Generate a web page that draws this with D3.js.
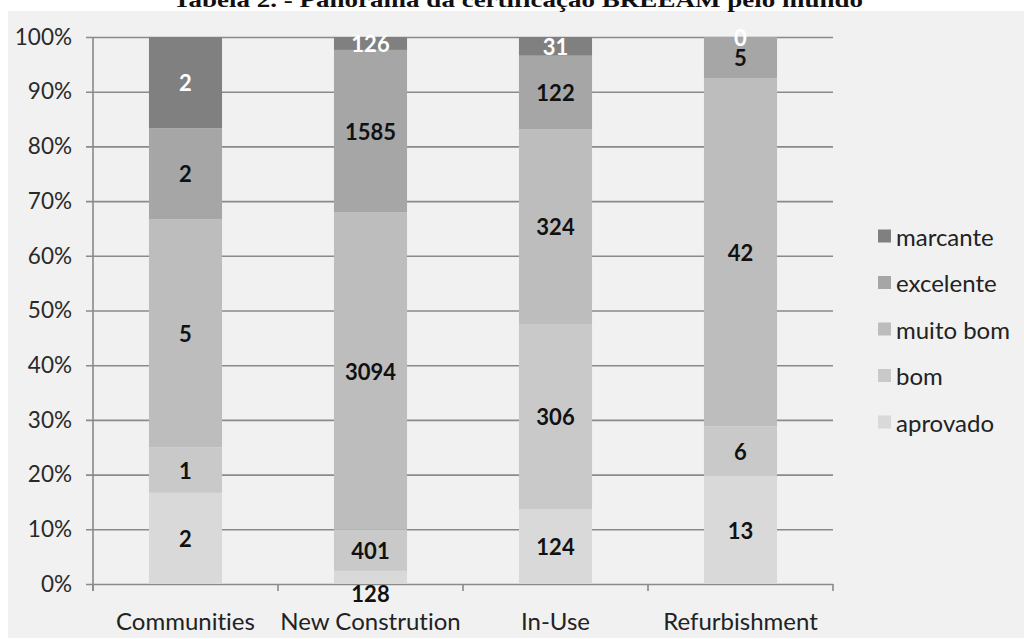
<!DOCTYPE html>
<html>
<head>
<meta charset="utf-8">
<script src="https://cdn.jsdelivr.net/npm/d3@7"></script>
<style>
  html, body { margin: 0; padding: 0; background: #ffffff; }
  svg { display: block; }
  text { font-variant-ligatures: none; font-feature-settings: "liga" 0, "clig" 0; }
</style>
</head>
<body>
<svg id="chart" width="1024" height="639"></svg>
<script>
// Certification counts per BREEAM scheme, by rating
const categories = ["Communities", "New Constrution", "In-Use", "Refurbishment"];
const seriesNames = ["aprovado", "bom", "muito bom", "excelente", "marcante"];
const aprovado  = [2, 128, 124, 13];
const bom       = [1, 401, 306, 6];
const muitoBom  = [5, 3094, 324, 42];
const excelente = [2, 1585, 122, 5];
const marcante  = [2, 126, 31, 0];
const yTickValues = [0, 0.1, 0.2, 0.3, 0.4, 0.5, 0.6, 0.7, 0.8, 0.9, 1];
const titleText = "Tabela 2. - Panorama da certificação BREEAM pelo mundo";

const seriesValues = [aprovado, bom, muitoBom, excelente, marcante];
const colors = ["#d9d9d9", "#c9c9c9", "#bdbdbd", "#a6a6a6", "#808080"];
const labelColors = ["#111", "#111", "#111", "#111", "#ffffff"];

const rows = categories.map((c, i) => {
  const r = { category: c };
  seriesNames.forEach((s, j) => { r[s] = seriesValues[j][i]; });
  return r;
});

const svg = d3.select("#chart");
const font = "Lato, 'Open Sans', sans-serif";

// Chart area background
svg.append("rect").attr("x", 8).attr("y", 11).attr("width", 1016).attr("height", 627)
  .attr("fill", "#f1f1f1");

// Title (sits above the chart area)
svg.append("text")
  .attr("x", 173).attr("y", 7)
  .attr("textLength", 690).attr("lengthAdjust", "spacingAndGlyphs")
  .attr("font-family", "'Liberation Serif', 'Times New Roman', serif")
  .attr("font-weight", "bold").attr("font-size", 22).attr("fill", "#111")
  .text(titleText);

const plotLeft = 93, plotRight = 833, plotTop = 37, plotBottom = 584;

const x = d3.scaleBand().domain(categories).range([plotLeft, plotRight])
  .paddingInner(0.605).paddingOuter(0.3025);
const y = d3.scaleLinear().domain([0, 1]).range([plotBottom, plotTop]);

// Horizontal gridlines with left tick marks
const yAxis = d3.axisLeft(y).tickValues(yTickValues)
  .tickFormat(d3.format(".0%"))
  .tickSize(-(plotRight - plotLeft)).tickSizeOuter(0).tickPadding(21);
const gy = svg.append("g").attr("transform", `translate(${plotLeft},0)`).call(yAxis);
gy.select(".domain").remove();
gy.selectAll(".tick line").attr("x1", -7).attr("stroke", "#8a8a8a").attr("stroke-width", 1.6);
gy.selectAll(".tick text").attr("font-family", font).attr("font-size", 22.5)
  .attr("fill", "#2a2a2a");

// Vertical axis line
svg.append("line").attr("x1", plotLeft).attr("x2", plotLeft)
  .attr("y1", plotTop).attr("y2", plotBottom + 7)
  .attr("stroke", "#8a8a8a").attr("stroke-width", 1.6);

// Category boundary ticks on the baseline
const boundaryX = d3.range(categories.length + 1).map(i => plotLeft + i * x.step());
svg.append("g").selectAll("line").data(boundaryX).join("line")
  .attr("x1", d => d).attr("x2", d => d).attr("y1", plotBottom).attr("y2", plotBottom + 7)
  .attr("stroke", "#8a8a8a").attr("stroke-width", 1.6);

// Category labels
svg.append("g").selectAll("text").data(categories).join("text")
  .attr("x", d => x(d) + x.bandwidth() / 2).attr("y", 620)
  .attr("text-anchor", "middle").attr("dominant-baseline", "central")
  .attr("font-family", font).attr("font-size", 24).attr("fill", "#222")
  .text(d => d);

// Stacked 100% bars
const stacked = d3.stack().keys(seriesNames).offset(d3.stackOffsetExpand)(rows);

const layers = svg.append("g").selectAll("g").data(stacked).join("g")
  .attr("fill", (d, i) => colors[i]);
layers.selectAll("rect").data(d => d).join("rect")
  .attr("x", d => x(d.data.category))
  .attr("width", x.bandwidth())
  .attr("y", d => y(d[1]))
  .attr("height", d => y(d[0]) - y(d[1]));

// Value labels in each segment
const labels = svg.append("g");
stacked.forEach((layer, i) => {
  labels.append("g").selectAll("text").data(layer).join("text")
    .attr("x", d => x(d.data.category) + x.bandwidth() / 2)
    .attr("y", d => {
      const h = y(d[0]) - y(d[1]);
      // a thin bottom segment puts its label just under the baseline
      if (d[0] === 0 && h > 0 && h < 16) return plotBottom + 9;
      return (y(d[0]) + y(d[1])) / 2;
    })
    .attr("text-anchor", "middle").attr("dominant-baseline", "central")
    .attr("font-family", font).attr("font-weight", "bold").attr("font-size", 22)
    .attr("fill", labelColors[i])
    .text(d => d.data[layer.key]);
});

// Legend, top series first
const legendOrder = seriesNames.map((s, i) => ({ name: s, color: colors[i] })).reverse();
const legend = svg.append("g").selectAll("g").data(legendOrder).join("g")
  .attr("transform", (d, i) => `translate(878, ${236 + i * 46.5})`);
legend.append("rect").attr("x", 0).attr("y", -6.5).attr("width", 13).attr("height", 13)
  .attr("fill", d => d.color);
legend.append("text").attr("x", 18).attr("y", 0).attr("dominant-baseline", "central")
  .attr("font-family", font).attr("font-size", 24).attr("fill", "#222")
  .text(d => d.name);
</script>
</body>
</html>
